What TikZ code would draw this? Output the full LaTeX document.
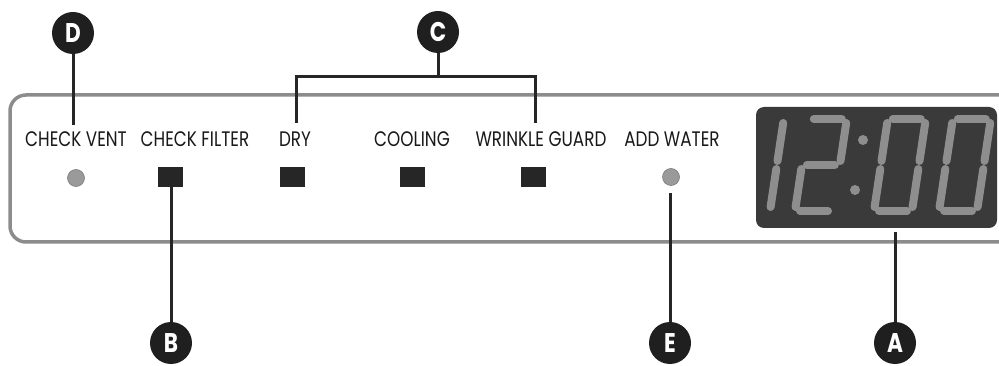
\documentclass[tikz,border=0pt]{standalone}
\usepackage{fontspec}
\setmainfont[FakeStretch=0.8]{Poppins}
\definecolor{panelgray}{HTML}{8C8C8C}
\definecolor{dispbg}{HTML}{3A3A3A}
\definecolor{segcol}{HTML}{8E8E8E}
\definecolor{ledcol}{HTML}{9A9A9A}
\tikzset{
  panel/.style={draw=panelgray, line width=3.5pt},
  lbl/.style={font=\fontsize{21}{21}\selectfont, inner sep=0pt, text=black!90},
  callout/.style={circle, fill=black!88, minimum size=42pt, inner sep=0pt, text=white, font=\fontsize{27}{27}\selectfont\bfseries},
  lead/.style={draw=black!85, line width=3pt},
  key/.style={rectangle, fill=black!85, minimum width=25pt, minimum height=20pt, inner sep=0pt},
  led/.style={circle, fill=ledcol, draw=ledcol!80!black, line width=0.6pt, minimum size=17pt, inner sep=0pt},
  seg/.style={draw=segcol, line width=8pt, line cap=round},
}
\begin{document}
\begin{tikzpicture}[x=1pt,y=-1pt]
\useasboundingbox (0,0) rectangle (999,366);
% panel outline
\draw[panel, rounded corners=16pt] (999,95) -- (10,95) -- (10,242) -- (999,242);
% labels
\node[lbl] (tvent) at (76,139) {CHECK VENT};
\node[lbl] (tfilter) at (195,139) {CHECK FILTER};
\node[lbl] (tdry) at (295,139) {DRY};
\node[lbl] (tcool) at (412,139) {COOLING};
\node[lbl] (twrink) at (541,139) {WRINKLE GUARD};
\node[lbl] (twater) at (672,139) {ADD WATER};
% indicators
\node[led] (lvent) at (76,178) {};
\node[key] (kfilter) at (170,177) {};
\node[key] (kdry) at (292,177) {};
\node[key] (kcool) at (412,177) {};
\node[key] (kwrink) at (533,177) {};
\node[led] (lwater) at (671,177) {};
% display
\node[rectangle, rounded corners=8pt, fill=dispbg, minimum width=241pt, minimum height=121pt, inner sep=0pt] (disp) at (876.5,167.5) {};
\begin{scope}[shift={(732,211)}, xslant=0.15, y=1pt]
  % digit 1
  \draw[seg] (38,4) -- (38,42); \draw[seg] (38,50) -- (38,88);
\end{scope}
\begin{scope}[shift={(795,211)}, xslant=0.15, y=1pt]
  % digit 2
  \draw[seg] (5,92) -- (33,92);
  \draw[seg] (38,88) -- (38,50);
  \draw[seg] (5,46) -- (33,46);
  \draw[seg] (0,42) -- (0,4);
  \draw[seg] (5,0) -- (33,0);
\end{scope}
\fill[segcol] (863,140) circle (5pt);
\fill[segcol] (855,190) circle (5pt);
\begin{scope}[shift={(874,211)}, xslant=0.15, y=1pt]
  \draw[seg] (5,92) -- (33,92);
  \draw[seg] (38,88) -- (38,50);
  \draw[seg] (38,42) -- (38,4);
  \draw[seg] (5,0) -- (33,0);
  \draw[seg] (0,42) -- (0,4);
  \draw[seg] (0,88) -- (0,50);
\end{scope}
\begin{scope}[shift={(939,211)}, xslant=0.15, y=1pt]
  \draw[seg] (5,92) -- (33,92);
  \draw[seg] (38,88) -- (38,50);
  \draw[seg] (38,42) -- (38,4);
  \draw[seg] (5,0) -- (33,0);
  \draw[seg] (0,42) -- (0,4);
  \draw[seg] (0,88) -- (0,50);
\end{scope}
% callouts
\node[callout] (D) at (73,33) {D};
\node[callout] (C) at (438,32) {C};
\node[callout] (B) at (171,343) {B};
\node[callout] (E) at (670,343) {E};
\node[callout] (A) at (895,343) {A};
% free ends
\coordinate (dEnd) at (73,125);
\coordinate (cMid) at (438,77);
\coordinate (cL) at (296,123);
\coordinate (cR) at (535,123);
\coordinate (eTop) at (670,193);
\coordinate (aTop) at (895,232);
% connectors
\draw[lead] (D.south) -- (dEnd);
\draw[lead] (C.south) -- (cMid);
\draw[lead] (cL) |- (cMid) -| (cR);
\draw[lead] (B.north) -- (B.north |- kfilter.south);
\draw[lead] (E.north) -- (eTop);
\draw[lead] (A.north) -- (aTop);
\end{tikzpicture}
\end{document}
